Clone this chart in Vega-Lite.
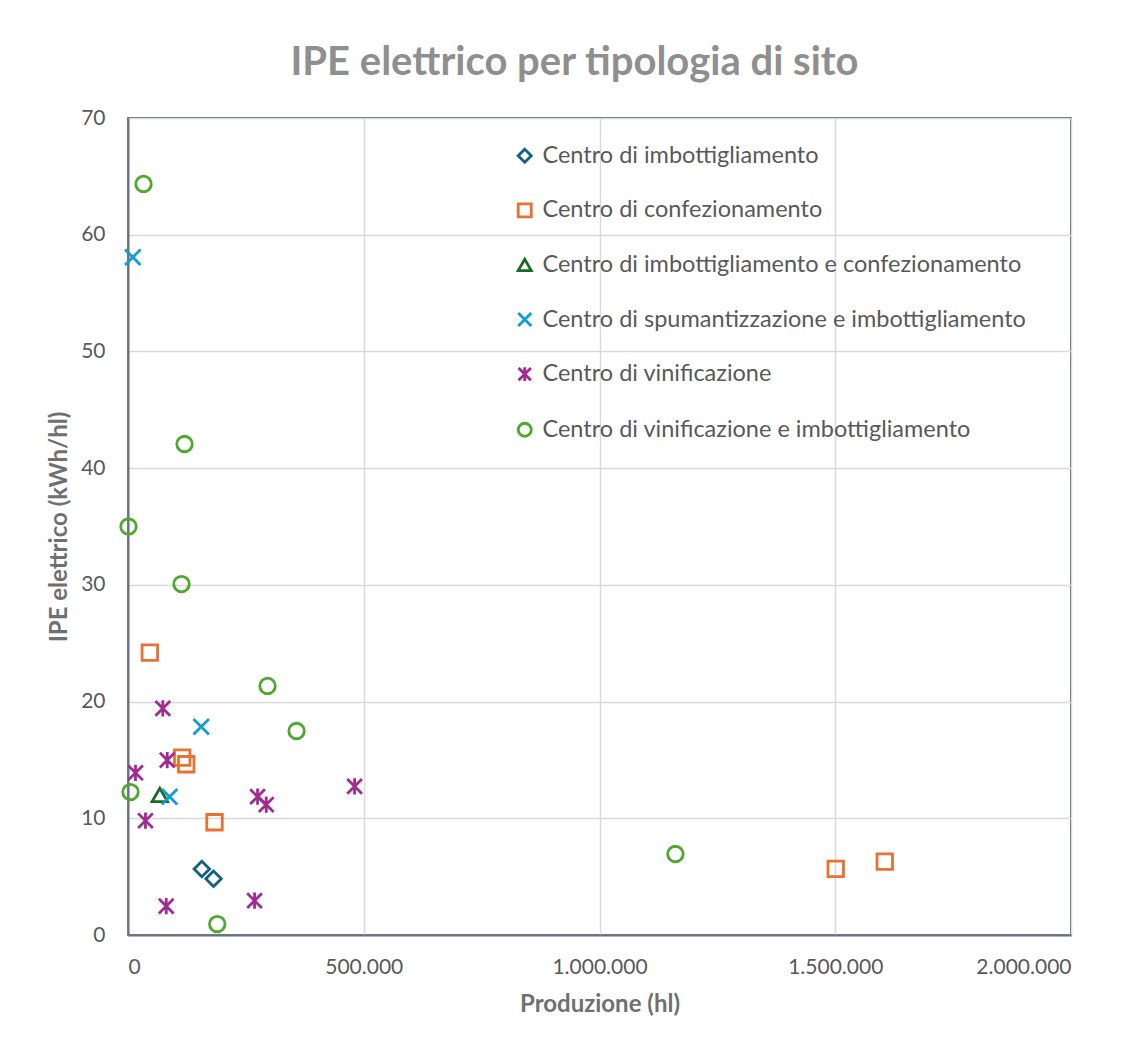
{
  "$schema": "https://vega.github.io/schema/vega-lite/v6.json",
  "width": 943,
  "height": 817,
  "autosize": {"type": "none"},
  "padding": {"left": 128, "top": 118, "right": 54, "bottom": 106},
  "background": "white",
  "title": {
    "text": "IPE elettrico per tipologia di sito",
    "font": "Lato",
    "fontSize": 40,
    "fontWeight": "bold",
    "color": "#8f8f8f",
    "anchor": "middle",
    "dx": -25,
    "offset": 24
  },
  "data": {
    "values": [
      {"x": 156600, "y": 5.66, "tipo": "Centro di imbottigliamento"},
      {"x": 181400, "y": 4.82, "tipo": "Centro di imbottigliamento"},
      {"x": 46300, "y": 24.19, "tipo": "Centro di confezionamento"},
      {"x": 115000, "y": 15.19, "tipo": "Centro di confezionamento"},
      {"x": 123500, "y": 14.63, "tipo": "Centro di confezionamento"},
      {"x": 183500, "y": 9.66, "tipo": "Centro di confezionamento"},
      {"x": 1501000, "y": 5.66, "tipo": "Centro di confezionamento"},
      {"x": 1605000, "y": 6.28, "tipo": "Centro di confezionamento"},
      {"x": 67500, "y": 12.0, "tipo": "Centro di imbottigliamento e confezionamento"},
      {"x": 10200, "y": 58.07, "tipo": "Centro di spumantizzazione e imbottigliamento"},
      {"x": 155300, "y": 17.85, "tipo": "Centro di spumantizzazione e imbottigliamento"},
      {"x": 88100, "y": 11.85, "tipo": "Centro di spumantizzazione e imbottigliamento"},
      {"x": 73800, "y": 19.42, "tipo": "Centro di vinificazione"},
      {"x": 83200, "y": 14.99, "tipo": "Centro di vinificazione"},
      {"x": 15900, "y": 13.9, "tipo": "Centro di vinificazione"},
      {"x": 37100, "y": 9.79, "tipo": "Centro di vinificazione"},
      {"x": 274800, "y": 11.85, "tipo": "Centro di vinificazione"},
      {"x": 293200, "y": 11.17, "tipo": "Centro di vinificazione"},
      {"x": 480600, "y": 12.74, "tipo": "Centro di vinificazione"},
      {"x": 81100, "y": 2.48, "tipo": "Centro di vinificazione"},
      {"x": 268400, "y": 2.94, "tipo": "Centro di vinificazione"},
      {"x": 32900, "y": 64.35, "tipo": "Centro di vinificazione e imbottigliamento"},
      {"x": 119900, "y": 42.07, "tipo": "Centro di vinificazione e imbottigliamento"},
      {"x": 1000, "y": 35.0, "tipo": "Centro di vinificazione e imbottigliamento"},
      {"x": 113500, "y": 30.07, "tipo": "Centro di vinificazione e imbottigliamento"},
      {"x": 296000, "y": 21.34, "tipo": "Centro di vinificazione e imbottigliamento"},
      {"x": 357500, "y": 17.48, "tipo": "Centro di vinificazione e imbottigliamento"},
      {"x": 5300, "y": 12.25, "tipo": "Centro di vinificazione e imbottigliamento"},
      {"x": 189300, "y": 0.94, "tipo": "Centro di vinificazione e imbottigliamento"},
      {"x": 1161000, "y": 6.94, "tipo": "Centro di vinificazione e imbottigliamento"}
    ]
  },
  "mark": {"type": "point", "filled": false, "strokeWidth": 2.8, "size": 240, "opacity": 1},
  "encoding": {
    "x": {
      "field": "x",
      "type": "quantitative",
      "scale": {"domain": [0, 2000000], "nice": false},
      "axis": {
        "title": "Produzione (hl)",
        "values": [0, 500000, 1000000, 1500000, 2000000],
        "labelExpr": "replace(format(datum.value, ','), /,/g, '.')",
        "labelPadding": 21,
        "titlePadding": 15
      }
    },
    "y": {
      "field": "y",
      "type": "quantitative",
      "scale": {"domain": [0, 70], "nice": false},
      "axis": {
        "title": "IPE elettrico (kWh/hl)",
        "values": [0, 10, 20, 30, 40, 50, 60, 70],
        "labelPadding": 23,
        "titlePadding": 9
      }
    },
    "color": {
      "field": "tipo",
      "type": "nominal",
      "scale": {
        "domain": [
          "Centro di imbottigliamento",
          "Centro di confezionamento",
          "Centro di imbottigliamento e confezionamento",
          "Centro di spumantizzazione e imbottigliamento",
          "Centro di vinificazione",
          "Centro di vinificazione e imbottigliamento"
        ],
        "range": ["#156082", "#E97132", "#196B24", "#0F9ED5", "#A02B93", "#4EA72E"]
      },
      "legend": {
        "title": null,
        "orient": "none",
        "legendX": 385,
        "legendY": 26,
        "labelFont": "Lato",
        "labelFontSize": 23.5,
        "labelColor": "#595959",
        "labelOffset": 6,
        "rowPadding": 29.6,
        "symbolSize": 170,
        "symbolStrokeWidth": 2.8,
        "labelLimit": 700
      }
    },
    "shape": {
      "field": "tipo",
      "type": "nominal",
      "scale": {
        "domain": [
          "Centro di imbottigliamento",
          "Centro di confezionamento",
          "Centro di imbottigliamento e confezionamento",
          "Centro di spumantizzazione e imbottigliamento",
          "Centro di vinificazione",
          "Centro di vinificazione e imbottigliamento"
        ],
        "range": [
          "diamond",
          "square",
          "triangle-up",
          "M-1,-1L1,1M-1,1L1,-1",
          "M-0.95,-0.95L0.95,0.95M-0.95,0.95L0.95,-0.95M0,-1.05L0,1.05",
          "circle"
        ]
      }
    }
  },
  "config": {
    "font": "Lato",
    "view": {"stroke": "#1f2d4f", "strokeWidth": 1.5},
    "axis": {
      "grid": true,
      "gridColor": "#d9d9d9",
      "gridWidth": 1.5,
      "domainColor": "#6b7089",
      "domainWidth": 2,
      "ticks": false,
      "labelFont": "Lato",
      "labelFontSize": 21,
      "labelColor": "#595959",
      "titleFont": "Lato",
      "titleFontSize": 24,
      "titleFontWeight": "bold",
      "titleColor": "#707070"
    }
  }
}
